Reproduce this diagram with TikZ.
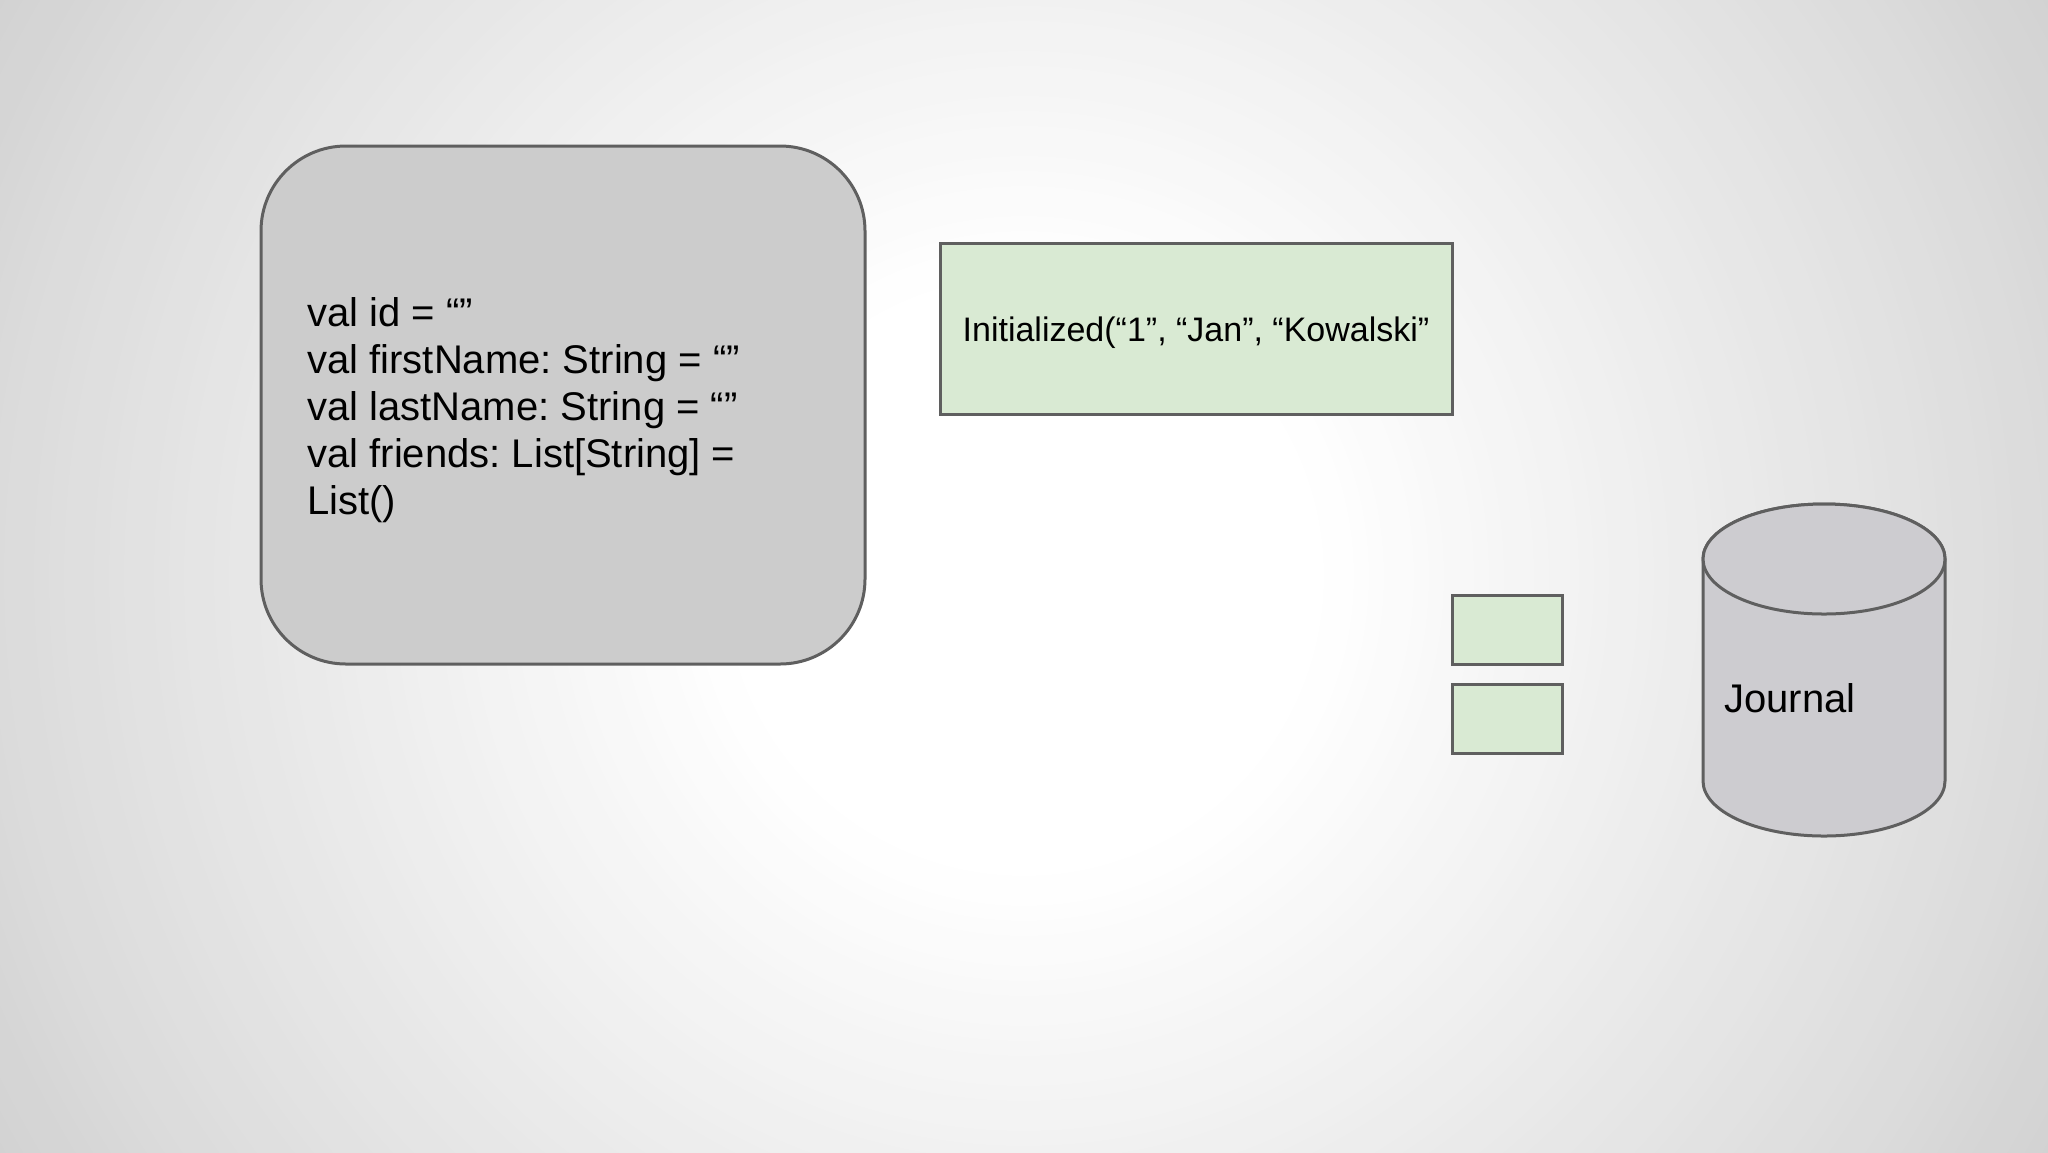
\documentclass[tikz,border=0pt]{standalone}
\usepackage{fontspec}
\setmainfont{Liberation Sans}
\frenchspacing
\definecolor{linegray}{HTML}{5F5F5F}
\definecolor{boxgray}{HTML}{CCCCCC}
\definecolor{greenfill}{HTML}{D9EAD3}
\definecolor{cylfill}{HTML}{CDCCD0}
\tikzset{
  outl/.style={draw=linegray, line width=1.5pt},
  greenbox/.style={outl, fill=greenfill, rectangle, inner sep=0pt},
}
\begin{document}
\begin{tikzpicture}[x=0.5pt, y=-0.5pt]
\useasboundingbox (0,0) rectangle (2048,1152);
\begin{scope}
  \clip (0,0) rectangle (2048,1152);
  \fill[white] (0,0) rectangle (2048,1152);
  \foreach \r in {1200,1185,...,300} {
    \pgfmathtruncatemacro\g{\r>1024 ? 220-(\r-1024)*9/151 : (\r>576 ? 242-(\r-576)*22/448 : (\r>310 ? 255-(\r-310)*13/266 : 255))}
    \pgfmathsetmacro\rr{\r/2}
    \definecolor{ringc}{RGB}{\g,\g,\g}
    \fill[ringc] (1024,576) circle[radius=\rr pt];
  }
\end{scope}

% state box
\draw[outl, fill=boxgray, rounded corners=42.5pt] (261,146) rectangle (865,664);
\node[anchor=west, align=left, inner sep=0pt, font=\fontsize{20}{23.5}\selectfont] (state) at (307,410)
  {val id = “”\\val firstName: String = “”\\val lastName: String = “”\\val friends: List[String] =\\List()};

% event box
\node[greenbox, minimum width=256pt, minimum height=85.5pt, font=\fontsize{17}{20}\selectfont] (event) at (1196,328.5)
  {\raisebox{-2pt}[\height][\depth]{Initialized(“1”, “Jan”, “Kowalski”}};

% small event boxes
\node[greenbox, minimum width=55pt, minimum height=34.5pt] (ev1) at (1507,630) {};
\node[greenbox, minimum width=55pt, minimum height=34.5pt] (ev2) at (1507,719) {};

% journal cylinder
\draw[outl, fill=cylfill] (1703,559) -- (1703,781)
  arc[start angle=180, end angle=360, x radius=60.5pt, y radius=27.5pt]
  -- (1945,559) arc[start angle=0, end angle=180, x radius=60.5pt, y radius=27.5pt] -- cycle;
\draw[outl, fill=cylfill] (1824,559) ellipse [x radius=60.5pt, y radius=27.5pt];
\node[anchor=base west, inner sep=0pt, font=\fontsize{20}{24}\selectfont] (journal) at (1724,712) {Journal};
\end{tikzpicture}
\end{document}
